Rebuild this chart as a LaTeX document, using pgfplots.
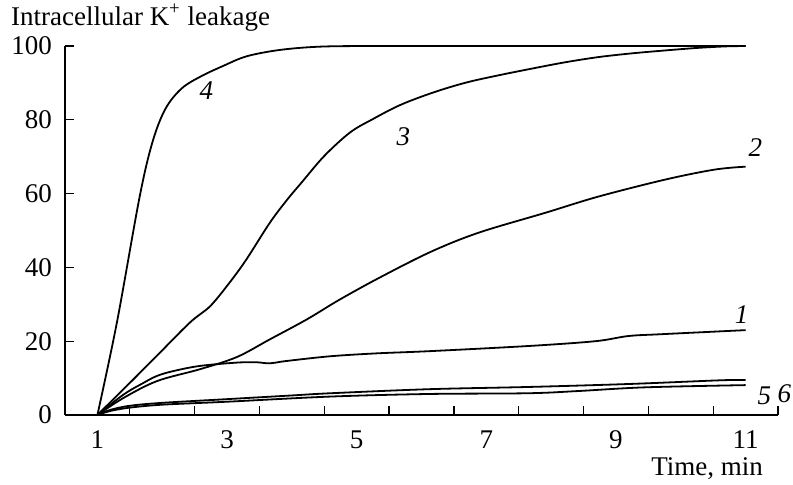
\documentclass[border=0pt]{standalone}
\usepackage{pgfplots}
\pgfplotsset{compat=1.18}
\usepackage{fontspec}
\setmainfont{Liberation Serif}
\tikzset{crv/.style={black, solid, line width=0.9pt, smooth, tension=0.55}}
\newcommand{\fs}{\fontsize{13.5}{16}\selectfont}
\begin{document}
\begin{tikzpicture}
\useasboundingbox (-32.5pt,-34.5pt) rectangle (364pt,207.5pt);
\begin{axis}[
  scale only axis, width=356.5pt, height=184.5pt,
  at={(0,0)}, anchor=south west,
  xmin=0.5, xmax=11.5, ymin=0, ymax=100,
  axis x line=bottom, axis y line=left,
  axis line style={-, line width=0.7pt},
  tick align=inside,
  xtick={1,3,5,7,9,11},
  xticklabels={1,3,5,7,9,11},
  minor xtick={1.5,2.5,...,11.5},
  every major x tick/.append style={draw=none},
  ytick={0,20,40,60,80,100},
  yticklabels={0,20,40,60,80,100},
  major tick length=4.5pt, minor tick length=4.5pt,
  tick style={line width=0.6pt, black},
  ticklabel style={font=\fs},
  yticklabel style={xshift=-3pt},
  xticklabel style={yshift=-4.5pt},
  clip=false,
]
% curve 4
\addplot[crv] coordinates {(1,0) (1.3,25) (1.65,59) (1.85,74) (2.05,83) (2.3,88.5) (2.6,91.8) (2.94,94.6) (3.3,97.2) (3.8,98.9) (4.4,99.8) (5.2,100) (7,100) (9,100) (11,100)};
% curve 3
\addplot[crv] coordinates {(1,0) (1.5,8.7) (1.92,16.1) (2.43,25.1) (2.74,29.5) (3.04,35.9) (3.30,42.2) (3.66,52.1) (3.93,58.4) (4.15,63) (4.5,70.2) (4.9,76.6) (5.25,80.2) (5.67,84.0) (6.18,87.4) (6.69,90.1) (7.2,92.1) (7.71,93.9) (8.22,95.6) (8.73,97.0) (9.24,98.0) (9.76,98.8) (10.27,99.5) (10.7,99.9) (11,100)};
% curve 2
\addplot[crv] coordinates {(1,0) (1.4,4.6) (1.92,9.2) (2.58,12.4) (3.15,15.7) (3.66,20.5) (4.23,25.9) (4.73,31.2) (5.35,37.2) (6.14,44.2) (6.88,49.4) (7.91,54.8) (8.73,59.2) (9.76,63.8) (10.52,66.5) (11,67.3)};
% curve 1
\addplot[crv] coordinates {(1,0) (1.4,5.5) (1.7,8.6) (1.92,10.6) (2.17,11.9) (2.58,13.3) (3.15,14.2) (3.45,14.3) (3.66,14.0) (3.9,14.6) (4.58,15.9) (5.3,16.7) (6.12,17.3) (7.65,18.7) (8.68,20) (9.19,21.4) (9.70,21.9) (11,23)};
% curve upper bottom
\addplot[crv] coordinates {(1,0) (1.2,1.4) (1.5,2.5) (2,3.3) (3,4.3) (4,5.3) (4.6,5.9) (6.12,7.0) (7.65,7.6) (9.19,8.4) (10.6,9.4) (11,9.5)};
% curve lower bottom
\addplot[crv] coordinates {(1,0) (1.2,1.1) (1.5,2.0) (2,2.8) (3,3.6) (4.6,5.0) (6.12,5.7) (7.65,5.9) (8.42,6.5) (9.45,7.5) (11,8.1)};
\node[font=\fs\itshape] at (axis cs:2.68,88) {4};
\node[font=\fs\itshape] at (axis cs:5.72,75.3) {3};
\node[font=\fs\itshape] at (axis cs:11.15,72.4) {2};
\node[font=\fs\itshape] at (axis cs:10.94,27.1) {1};
\node[font=\fs\itshape] at (axis cs:11.29,5.1) {5};
\node[font=\fs\itshape] at (axis cs:11.6,5.7) {6};
\node[font=\fs, anchor=base east] at ([yshift=-30pt,xshift=-4pt]rel axis cs:1,0) {Time, min};
\node[font=\fs, anchor=base west] at ([yshift=10.5pt,xshift=-30.5pt]rel axis cs:0,1) {Intracellular K\textsuperscript{+} leakage};
\end{axis}
\end{tikzpicture}
\end{document}
